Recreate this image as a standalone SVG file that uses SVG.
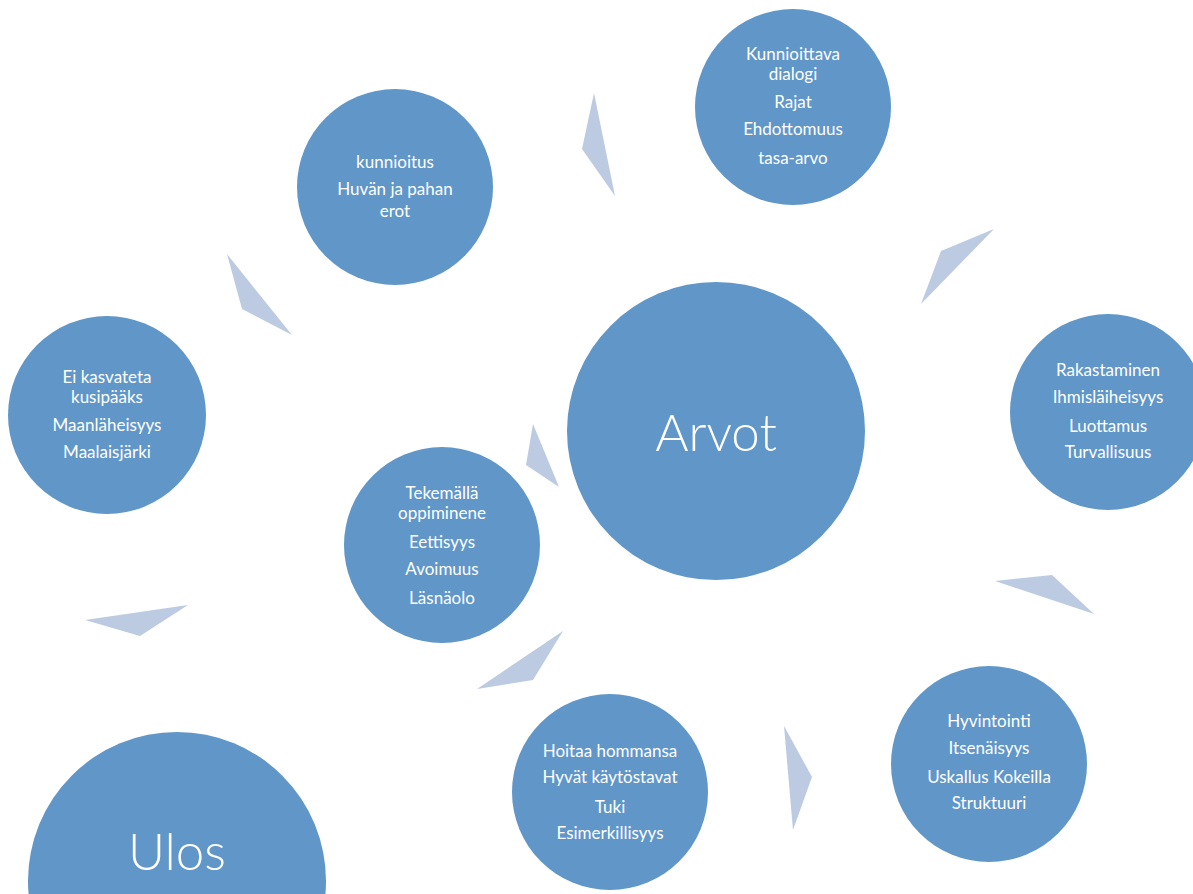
<svg xmlns="http://www.w3.org/2000/svg" width="1193" height="894" viewBox="0 0 1193 894">
<style>
.c{fill:#6096c8}
.a{fill:#bccbe1}
text{font-family:Lato,"Open Sans","Liberation Sans",sans-serif;fill:#fff;text-anchor:middle}
.s{font-size:17px}
.b{font-size:51px;font-weight:300}
</style>
<rect width="1193" height="894" fill="#fff"/>
<g id="connectors">
<polygon class="a" points="594,93 582,149 615,196"/>
<polygon class="a" points="994,229 941,251 921,304"/>
<polygon class="a" points="995,581 1052,575 1094,614"/>
<polygon class="a" points="784,726 812,777 793,830"/>
<polygon class="a" points="563,631 533,680 477,689"/>
<polygon class="a" points="188,605 140,636 85,620"/>
<polygon class="a" points="227,254 242,309 292,335"/>
<polygon class="a" points="533,424 526,465 559,487"/>
</g>
<g id="arvot">
<circle class="c" cx="716" cy="431" r="149"/>
<text class="b" x="716" y="451">Arvot</text>
</g>
<g id="kunnioittava">
<circle class="c" cx="793" cy="107" r="98"/>
<text class="s" x="793" y="60">Kunnioittava</text>
<text class="s" x="793" y="80">dialogi</text>
<text class="s" x="793" y="108">Rajat</text>
<text class="s" x="793" y="135">Ehdottomuus</text>
<text class="s" x="793" y="164">tasa-arvo</text>
</g>
<g id="kunnioitus">
<circle class="c" cx="395" cy="187" r="98"/>
<text class="s" x="395" y="168">kunnioitus</text>
<text class="s" x="395" y="195">Huvän ja pahan</text>
<text class="s" x="395" y="217">erot</text>
</g>
<g id="eikasvateta">
<circle class="c" cx="107" cy="415" r="99"/>
<text class="s" x="107" y="383">Ei kasvateta</text>
<text class="s" x="107" y="403">kusipääks</text>
<text class="s" x="107" y="431">Maanläheisyys</text>
<text class="s" x="107" y="458">Maalaisjärki</text>
</g>
<g id="tekemalla">
<circle class="c" cx="442" cy="545" r="98"/>
<text class="s" x="442" y="499">Tekemällä</text>
<text class="s" x="442" y="519">oppiminene</text>
<text class="s" x="442" y="548">Eettisyys</text>
<text class="s" x="442" y="575">Avoimuus</text>
<text class="s" x="442" y="604">Läsnäolo</text>
</g>
<g id="rakastaminen">
<circle class="c" cx="1108" cy="412" r="98"/>
<text class="s" x="1108" y="376">Rakastaminen</text>
<text class="s" x="1108" y="403">Ihmisläiheisyys</text>
<text class="s" x="1108" y="432">Luottamus</text>
<text class="s" x="1108" y="458">Turvallisuus</text>
</g>
<g id="hyvintointi">
<circle class="c" cx="989" cy="764" r="98"/>
<text class="s" x="989" y="727">Hyvintointi</text>
<text class="s" x="989" y="754">Itsenäisyys</text>
<text class="s" x="989" y="783">Uskallus Kokeilla</text>
<text class="s" x="989" y="809">Struktuuri</text>
</g>
<g id="hoitaa">
<circle class="c" cx="610" cy="792" r="98"/>
<text class="s" x="610" y="757">Hoitaa hommansa</text>
<text class="s" x="610" y="783">Hyvät käytöstavat</text>
<text class="s" x="610" y="813">Tuki</text>
<text class="s" x="610" y="839">Esimerkillisyys</text>
</g>
<g id="ulos">
<circle class="c" cx="177" cy="881" r="149"/>
<text class="b" x="177" y="870">Ulos</text>
</g>
</svg>
